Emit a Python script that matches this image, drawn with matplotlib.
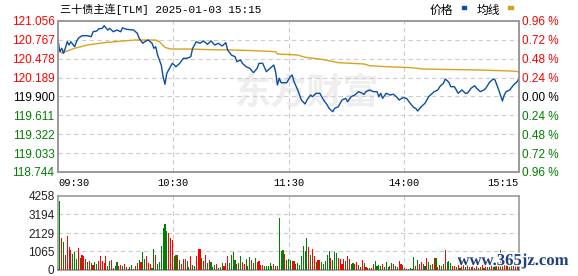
import matplotlib
matplotlib.use("Agg")
import matplotlib.pyplot as plt
import matplotlib.patheffects as pe
from matplotlib.patches import Rectangle
import numpy as np

# ---- data ----
title = "三十债主连[TLM] 2025-01-03 15:15"
time_labels = ["09:30", "10:30", "11:30", "14:00", "15:15"]
price_ticks = [121.056, 120.767, 120.478, 120.189, 119.900, 119.611, 119.322, 119.033, 118.744]
prev_close = 119.900
vol_ticks = [0, 1065, 2129, 3194, 4258]

# price line: minute slot -> price
price_slot = [0, 1, 2, 3, 4, 5, 6, 7, 9, 10, 11, 13, 16, 18, 19, 21, 22, 24, 25, 27,
              28, 30, 32, 34, 35, 37, 41, 43, 44, 46, 47, 49, 51, 52, 53, 54, 56, 57, 58, 59,
              61, 62, 64, 66, 68, 70, 72, 73, 75, 77, 79, 81, 83, 85, 87, 89, 91, 92, 94, 96,
              97, 99, 100, 102, 104, 106, 108, 109, 111, 113, 115, 117, 118, 119, 120, 121, 124, 126, 127, 128,
              130, 132, 134, 135, 137, 138, 140, 142, 144, 146, 147, 149, 150, 152, 154, 156, 157, 159, 161, 163,
              165, 166, 167, 169, 171, 173, 174, 175, 176, 178, 180, 182, 184, 185, 187, 189, 191, 193, 194, 195,
              197, 199, 201, 203, 204, 206, 207, 209, 210, 212, 213, 215, 217, 219, 221, 222, 224, 226, 227, 229,
              231, 232, 234, 236, 237, 239, 241, 242, 243, 245, 247, 249, 250]
price = [120.765, 120.586, 120.638, 120.561, 120.643, 120.739, 120.689, 120.739, 120.662, 120.739,
         120.791, 120.831, 120.831, 120.816, 120.892, 120.903, 120.934, 120.944, 120.984, 120.918,
         120.944, 120.892, 120.918, 120.892, 120.953, 120.929, 120.918, 120.868, 120.791, 120.715,
         120.739, 120.765, 120.715, 120.638, 120.662, 120.535, 120.382, 120.203, 120.087, 120.255,
         120.356, 120.408, 120.356, 120.408, 120.485, 120.485, 120.509, 120.638, 120.739, 120.715,
         120.750, 120.699, 120.750, 120.689, 120.715, 120.673, 120.724, 120.612, 120.535, 120.509,
         120.433, 120.459, 120.408, 120.356, 120.332, 120.264, 120.332, 120.408, 120.408, 120.280,
         120.332, 120.382, 120.280, 120.076, 120.179, 120.111, 120.111, 120.203, 120.229, 120.127,
         120.000, 119.846, 119.785, 119.846, 119.923, 119.897, 119.949, 119.949, 119.846, 119.770,
         119.719, 119.667, 119.719, 119.744, 119.846, 119.872, 119.820, 119.897, 119.923, 119.974,
         119.949, 119.934, 119.974, 120.000, 119.974, 119.974, 119.897, 119.949, 119.872, 119.949,
         119.923, 119.934, 119.882, 119.846, 119.882, 119.872, 119.796, 119.729, 119.719, 119.678,
         119.744, 119.796, 119.897, 119.949, 119.974, 120.000, 120.050, 120.102, 120.168, 120.117,
         120.050, 120.050, 119.949, 120.000, 119.949, 119.949, 120.026, 120.065, 120.026, 119.974,
         120.000, 120.026, 120.117, 120.168, 120.153, 120.000, 119.831, 119.923, 119.974, 120.000,
         120.076, 120.127, 120.180]

# average price line
avg_slot = [0, 2, 9, 16, 25, 35, 42, 53, 55, 58, 61, 71, 85, 91, 107, 118, 119, 130, 134, 143,
            152, 166, 169, 178, 192, 198, 207, 228, 246, 250]
avg_price = [120.620, 120.566, 120.638, 120.689, 120.724, 120.750, 120.765, 120.765, 120.739, 120.653,
             120.627, 120.627, 120.615, 120.615, 120.601, 120.586, 120.551, 120.535, 120.500, 120.470,
             120.418, 120.398, 120.372, 120.356, 120.341, 120.321, 120.316, 120.306, 120.290, 120.280]

# volume per minute and its colour (r = up, g = down), ten per row
volume = [60, 3947, 1858, 1625, 871, 1974, 1335, 1161, 929, 1045,
          639, 1277, 697, 871, 813, 639, 464, 522, 406, 290,
          464, 348, 522, 813, 522, 406, 813, 232, 522, 580,
          116, 232, 464, 232, 290, 232, 348, 174, 58, 174,
          290, 58, 232, 406, 580, 464, 1045, 639, 813, 406,
          348, 116, 1219, 871, 348, 464, 1393, 2438, 2670, 2264,
          2148, 1858, 1742, 813, 871, 871, 580, 348, 639, 639,
          522, 174, 813, 290, 232, 813, 1219, 1219, 697, 522,
          871, 406, 580, 464, 174, 290,
          348, 116, 174, 406, 232, 406, 813, 406, 871, 1045,
          580, 348, 406, 813, 464, 348, 639, 232, 755, 580,
          406, 697, 464, 522, 290, 290, 232, 232, 232, 406,
          232, 348, 232, 232, 3019, 1103, 1161, 929, 580, 639,
          580, 522, 522, 348, 406, 290, 813, 1393, 1103, 1858,
          1335, 871, 1219, 813, 464, 580, 580, 464, 348, 522,
          871, 1103, 697, 580, 1045, 987, 697, 639, 348, 639,
          522, 813, 639, 348, 406, 348, 464, 290, 174, 580,
          406, 174, 116, 116,
          97, 329, 503, 213, 271, 213, 329, 155, 445, 155,
          213, 387, 329, 213, 155, 503, 329, 271, 97, 39,
          39, 97, 39, 735, 213, 561, 329, 464, 329, 213,
          677, 445, 271, 329, 677, 677, 155, 271, 213, 329,
          1142, 445, 503, 387, 213,
          250, 180, 300, 120, 210, 340, 150, 280, 200, 160,
          300, 90, 230, 140, 190, 260, 110, 320, 200, 170,
          380, 150, 230, 290, 330, 1150, 800, 420, 260, 350,
          180, 220, 310, 240, 270, 150]
vol_dir = ("rgrgrrrrgg" "grgrrrgrgr" "ggrrrrrggr" "rggrrgrggr" "grgrgrggrr"
           "rggrgggggg" "rrrggrgrrr" "ggrggrrrgr" "rgrggg"
           "rgggrrrggg" "grggrrgggr" "ggrrrrgggg" "grgrgggrgg" "grrggggggg"
           "rgrrgrrggg" "ggrgggrrrr" "grrggrrgrr" "grrg"
           "rrggggrggr" "ggrggrrgrr" "rgggrgrrrg" "rggrrgrgrg" "rgggr"
           "rgrgrrgrgr" "rgrgrrgrrg" "rrgrrgrrgr" "rgrrrg")

red = "#ff0000"
green = "#008000"
blue = "#0b4ea2"
gold = "#d9a21b"
grid_c = "#cccccc"
frame_c = "#999999"

n = len(volume)
x_end = n - 1
tick_pos = np.linspace(0, x_end, len(time_labels))

plt.rcParams["font.family"] = ["Liberation Sans", "DejaVu Sans"]
fig = plt.figure(figsize=(5.78, 2.76), dpi=100)
ax = fig.add_axes([58 / 578, 1 - 172 / 276, 461 / 578, 151 / 276])
axv = fig.add_axes([58 / 578, 1 - 270 / 276, 461 / 578, 74 / 276])

# faint site watermark behind the price line
ax.text(0.54, 0.52, "东方财富", transform=ax.transAxes, fontsize=26, color="#eeeeee",
        family=["Noto Sans CJK SC"], fontweight="bold", ha="center", va="center", zorder=0)

ax.plot(avg_slot, avg_price, color=gold, lw=1.0, zorder=3)
ax.plot(price_slot, price, color=blue, lw=1.0, zorder=4)

ax.set_xlim(0, x_end)
ax.set_ylim(price_ticks[-1], price_ticks[0])
ax.set_yticks(price_ticks)
ax.set_yticklabels([f"{v:.3f}" for v in price_ticks], fontsize=8.5)
for lab, v in zip(ax.get_yticklabels(), price_ticks):
    lab.set_color(red if v > prev_close else ("black" if v == prev_close else green))

ax.set_xticks(tick_pos)
ax.set_xticklabels(time_labels, fontsize=7.5, family="Liberation Mono")
xl = ax.get_xticklabels()
xl[0].set_ha("left")
xl[-1].set_ha("right")

ax.tick_params(length=0, pad=2.5)
ax.tick_params(axis="x", pad=4)
for y in price_ticks[1:-1]:
    ax.axhline(y, color=grid_c, lw=0.8, ls=(0, (4, 3)), zorder=1)
for xv in tick_pos[1:-1]:
    ax.axvline(xv, color=grid_c, lw=0.8, ls=(0, (4, 3)), zorder=1)

# right axis in percent
ax2 = ax.twinx()
ax2.set_ylim(ax.get_ylim())
ax2.set_yticks(price_ticks)
pct = [abs(v / prev_close - 1) * 100 for v in price_ticks]
ax2.set_yticklabels([f"{p:.2f} %" for p in pct], fontsize=8.5)
for lab, v in zip(ax2.get_yticklabels(), price_ticks):
    lab.set_color(red if v > prev_close else ("black" if v == prev_close else green))
ax2.tick_params(length=0, pad=2.5)

for a in (ax, ax2, axv):
    for s in a.spines.values():
        s.set_color(frame_c)
        s.set_linewidth(1.2)

# volume
bar_cols = [red if c == "r" else green for c in vol_dir]
axv.bar(np.arange(n), volume, width=0.6, color=bar_cols, zorder=3)
axv.set_xlim(ax.get_xlim())
axv.set_ylim(0, vol_ticks[-1])
axv.set_yticks(vol_ticks)
axv.set_yticklabels([str(v) for v in vol_ticks], fontsize=8.5, color="#222222")
axv.set_xticks([])
axv.tick_params(length=0, pad=2.5)
for y in vol_ticks[1:-1]:
    axv.axhline(y, color=grid_c, lw=0.8, ls=(0, (4, 3)), zorder=1)
for xv in tick_pos[1:-1]:
    axv.axvline(xv, color=grid_c, lw=0.8, ls=(0, (4, 3)), zorder=1)

# title and legend
fig.text(60 / 578, 1 - 9 / 276, title, fontsize=8, family=["Liberation Mono", "Noto Sans CJK SC"],
         ha="left", va="center")
fig.text(430 / 578, 1 - 10 / 276, "价格", fontsize=8.5, family=["Noto Sans CJK SC"], ha="left", va="center")
fig.text(477 / 578, 1 - 10 / 276, "均线", fontsize=8.5, family=["Noto Sans CJK SC"], ha="left", va="center")
fig.patches.append(Rectangle((462 / 578, 1 - 9 / 276), 4 / 578, 3 / 276, transform=fig.transFigure,
                             color=blue))
fig.patches.append(Rectangle((508 / 578, 1 - 9 / 276), 5 / 578, 3 / 276, transform=fig.transFigure,
                             color=gold))

fig.text(513 / 578, 1 - 261 / 276, "www.365jz.com", fontsize=12, family="Liberation Serif",
         fontweight="bold", color="#1f3f7f", ha="center", va="center",
         path_effects=[pe.withStroke(linewidth=2, foreground="white")])

fig.savefig("out.png", dpi=100)
